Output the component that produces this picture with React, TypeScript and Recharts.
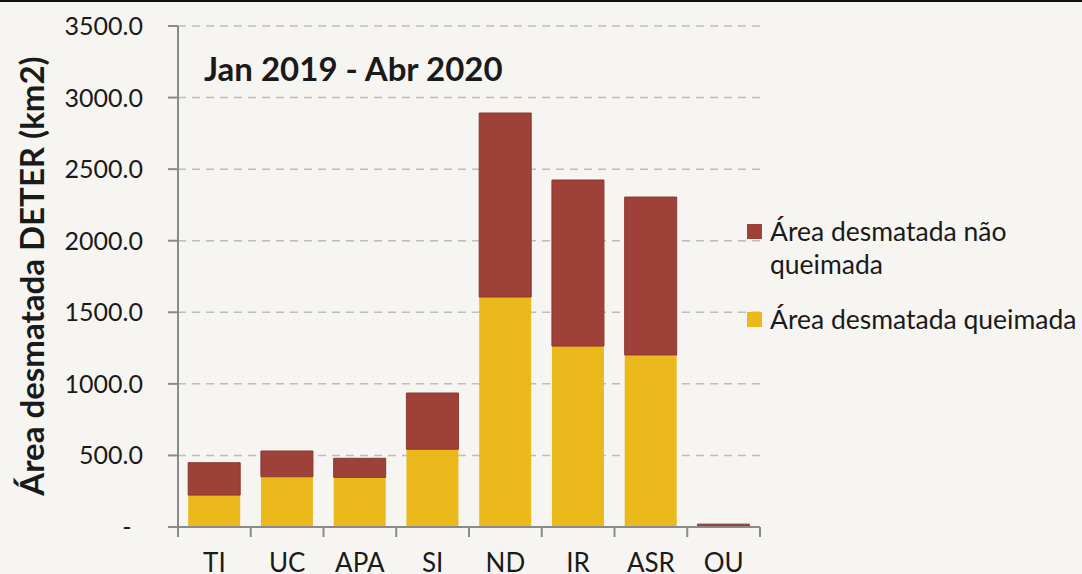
import React from 'react';
import { BarChart, Bar, XAxis, YAxis, CartesianGrid, Legend } from 'recharts';

const categories = ['TI', 'UC', 'APA', 'SI', 'ND', 'IR', 'ASR', 'OU'];
const queimada = [223, 351, 347, 543, 1607, 1264, 1202, 10];
const naoQueimada = [226, 180, 133, 393, 1285, 1160, 1103, 10];
const yTicks = [0, 500, 1000, 1500, 2000, 2500, 3000, 3500];

const seriesNames = {
  nao: 'Área desmatada não queimada',
  queimada: 'Área desmatada queimada',
};
const chartTitle = 'Jan 2019 - Abr 2020';
const yTitle = 'Área desmatada DETER (km2)';

const RED = '#9e4139';
const YELLOW = '#ebb91b';
const FONT = 'Lato, "Open Sans", sans-serif';
const W = 1082;
const H = 574;
const M = { top: 26, right: 322, bottom: 0, left: 0 };
const Y_W = 178;
const X_H = 47;
const BAND = (W - M.right - Y_W) / categories.length;

const data = categories.map((c, i) => ({
  cat: c,
  queimada: queimada[i],
  nao: naoQueimada[i],
}));

const XTick = (props: any) => {
  const { x, y, payload, index } = props;
  return (
    <g>
      <line x1={x - BAND / 2} x2={x - BAND / 2} y1={y} y2={y + 10} stroke="#8a8a8a" strokeWidth={2} />
      {index === categories.length - 1 && (
        <line x1={x + BAND / 2} x2={x + BAND / 2} y1={y} y2={y + 10} stroke="#8a8a8a" strokeWidth={2} />
      )}
      <text x={x} y={y + 45} textAnchor="middle" fontFamily={FONT} fontSize={26} fill="#1a1a1a">
        {payload.value}
      </text>
    </g>
  );
};

const YTick = (props: any) => {
  const { x, y, payload } = props;
  if (payload.value === 0) {
    return (
      <text x={x - 41} y={y + 9} textAnchor="middle" fontFamily={FONT} fontSize={25} fill="#1a1a1a">
        -
      </text>
    );
  }
  return (
    <text x={x - 25} y={y + 9} textAnchor="end" fontFamily={FONT} fontSize={25} fill="#1a1a1a">
      {Number(payload.value).toFixed(1)}
    </text>
  );
};

const LegendContent = () => (
  <div style={{ fontFamily: FONT, fontSize: 26.5, color: '#1a1a1a', lineHeight: '33px' }}>
    <div style={{ display: 'flex', alignItems: 'flex-start' }}>
      <span style={{ width: 15, height: 15, background: RED, marginTop: 9, marginRight: 8, flex: 'none' }} />
      <span style={{ width: 310 }}>Área desmatada não<br />queimada</span>
    </div>
    <div style={{ display: 'flex', alignItems: 'flex-start', marginTop: 22 }}>
      <span style={{ width: 15, height: 15, background: YELLOW, marginTop: 9, marginRight: 8, flex: 'none' }} />
      <span style={{ whiteSpace: 'nowrap' }}>{seriesNames.queimada}</span>
    </div>
  </div>
);

export default function App() {
  return (
    <div style={{ position: 'absolute', left: 0, top: 0, width: W, height: H, background: '#f7f5f1', overflow: 'hidden' }}>
      <div style={{ position: 'absolute', left: 0, top: 0, width: W, height: 2, background: '#111' }} />
      <BarChart width={W} height={H} data={data} margin={M} barCategoryGap="14%">
        <CartesianGrid vertical={false} stroke="#bdbdbd" strokeDasharray="8 6" strokeWidth={1.5} />
        <XAxis
          dataKey="cat"
          height={X_H}
          tickLine={false}
          tickSize={0}
          tickMargin={0}
          axisLine={{ stroke: '#8a8a8a', strokeWidth: 2 }}
          tick={<XTick />}
          interval={0}
        />
        <YAxis
          width={Y_W}
          domain={[0, 3500]}
          ticks={yTicks}
          interval={0}
          tickSize={10}
          tickMargin={0}
          tickLine={{ stroke: '#8a8a8a', strokeWidth: 2 }}
          axisLine={{ stroke: '#8a8a8a', strokeWidth: 2 }}
          tick={<YTick />}
        />
        <Legend
          layout="horizontal"
          verticalAlign="middle"
          align="center"
          content={<LegendContent />}
          wrapperStyle={{ position: 'absolute', left: 747, top: 215, width: 335 }}
        />
        <Bar dataKey="queimada" name={seriesNames.queimada} stackId="a" fill={YELLOW} isAnimationActive={false} />
        <Bar dataKey="nao" name={seriesNames.nao} stackId="a" fill={RED} stroke="#8e3530" strokeWidth={1} isAnimationActive={false} />
      </BarChart>
      <svg style={{ position: 'absolute', left: 0, top: 0, pointerEvents: 'none' }} width={W} height={H}>
        <text x={204} y={81} fontFamily={FONT} fontWeight={700} fontSize={33} fill="#1a1a1a">
          {chartTitle}
        </text>
        <text
          transform="translate(44, 276) rotate(-90)"
          textAnchor="middle"
          fontFamily={FONT}
          fontWeight={700}
          fontSize={33}
          fill="#1a1a1a"
        >
          {yTitle}
        </text>
      </svg>
    </div>
  );
}
